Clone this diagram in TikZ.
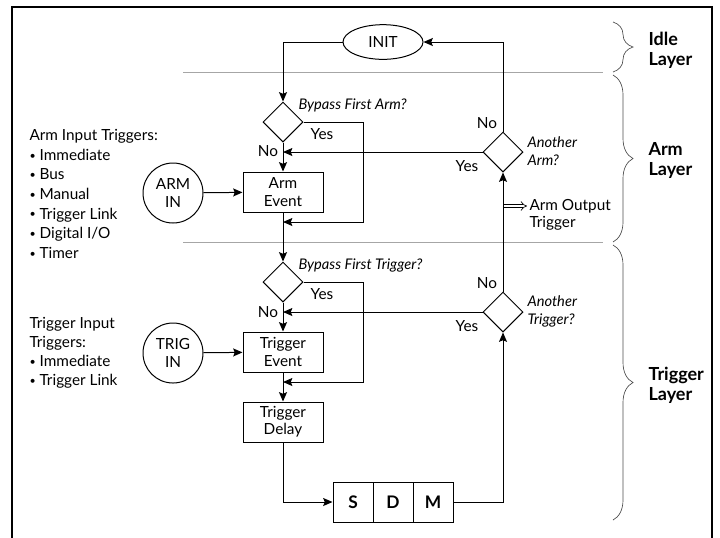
\documentclass[tikz,border=0pt]{standalone}
\usepackage{fontspec}
\setmainfont{Lato}
\usetikzlibrary{shapes.geometric,arrows.meta,decorations.pathreplacing}
\newcommand\mybul{{\fontsize{8}{8}\selectfont\raisebox{0.9pt}{\textbullet}}\ }
\begin{document}
\begin{tikzpicture}[x=0.75pt,y=-0.75pt,
  font=\fontsize{11.5}{13}\selectfont,
  line width=0.75pt,
  arr/.style={-{Stealth[length=7pt,width=6pt,inset=1.2pt]}},
  box/.style={draw,rectangle,minimum width=60pt,minimum height=30pt,inner sep=1pt,align=center},
  dec/.style={draw,diamond,minimum width=30pt,minimum height=30pt,inner sep=0pt},
  circ/.style={draw,circle,minimum size=45pt,inner sep=0pt,align=center},
  oval/.style={draw,ellipse,minimum width=60pt,minimum height=26pt,inner sep=0pt},
  cell/.style={draw,rectangle,minimum width=30pt,minimum height=30pt,inner sep=0pt,font=\fontsize{13}{14}\selectfont\bfseries},
  lbl/.style={inner sep=0pt},
  q/.style={inner sep=0pt,anchor=west,align=left,font=\fontsize{11}{13.5}\selectfont\itshape},
  note/.style={inner sep=0pt,anchor=west,align=left},
  layer/.style={anchor=west,align=left,inner sep=0pt,font=\fontsize{13.5}{15}\selectfont\bfseries},
  sepline/.style={draw=gray!70,line width=0.6pt},
  brc/.style={draw=gray!60!black,line width=0.5pt,decorate,decoration={brace,amplitude=15pt}}
]
\useasboundingbox (0,0) rectangle (720,537);
% frame
\draw[line width=1.6pt] (12,540) -- (12,7) -- (712,7) -- (712,540);
% separators
\draw[sepline] (183,72) -- (603,72);
\draw[sepline] (183,242) -- (603,242);
% braces
\draw[brc] (613,22) -- (613,72);
\draw[brc] (613,75) -- (613,242);
\draw[brc] (613,245) -- (613,520);
\node[layer] (lidle) at (648,50) {Idle\\Layer};
\node[layer] (larm) at (648,160) {Arm\\Layer};
\node[layer] (ltrig) at (648,385) {Trigger\\Layer};

% nodes
\node[oval] (init) at (383,42) {INIT};
\node[dec] (d1) at (283,122) {};
\node[box] (armev) at (283,192) {Arm\\Event};
\node[circ] (armin) at (173,193) {ARM\\IN};
\node[dec] (d2) at (283,282) {};
\node[box] (trigev) at (283,352) {Trigger\\Event};
\node[circ] (trigin) at (173,353) {TRIG\\IN};
\node[box] (trigdel) at (283,422) {Trigger\\Delay};
\node[cell] (s) at (353,502) {S};
\node[cell] (d) at (393,502) {D};
\node[cell] (m) at (433,502) {M};
\node[dec] (d3) at (503,312) {};
\node[dec] (d4) at (503,152) {};

% helper coordinates
\coordinate (b1) at (363,222);
\coordinate (j1) at (283,222);
\coordinate (j2) at (283,152);
\coordinate (b2) at (363,382);
\coordinate (j3) at (283,382);
\coordinate (j4) at (283,312);
\coordinate (ao1) at (504,206);
\coordinate (ao2) at (527,206);

% connectors
\draw[arr] (init.west) -| (d1.north);
\draw[arr] (d1.east) -| (b1) -- (j1);
\draw[arr] (d1.south) -- (armev.north);
\draw[arr] (d4.west) -- (j2);
\draw[arr] (armin) -- (armev);
\draw[arr] (armev.south) -- (d2.north);
\draw[arr] (d2.east) -| (b2) -- (j3);
\draw[arr] (d2.south) -- (trigev.north);
\draw[arr] (d3.west) -- (j4);
\draw[arr] (trigin) -- (trigev);
\draw[arr] (trigev.south) -- (trigdel.north);
\draw[arr] (trigdel.south) |- (s.west);
\draw[arr] (m.east) -| (d3.south);
\draw[arr] (d3.north) -- (d4.south);
\draw[arr] (d4.north) |- (init.east);
\draw[double,double distance=2pt,line width=0.5pt,-{Implies}] (ao1) -- (ao2);

% labels
\node[q] (q1) at (298,105) {Bypass First Arm?};
\node[lbl] (y1) at (322,134) {Yes};
\node[lbl] (n1) at (268,151) {No};
\node[q] (q2) at (298,265) {Bypass First Trigger?};
\node[lbl] (y2) at (322,294) {Yes};
\node[lbl] (n2) at (268,312) {No};
\node[q] (q4) at (527,151) {Another\\Arm?};
\node[lbl] (n4) at (487,123) {No};
\node[lbl] (y4) at (467,166) {Yes};
\node[note] (aot) at (529,215) {Arm Output\\Trigger};
\node[q] (q3) at (527,311) {Another\\Trigger?};
\node[lbl] (n3) at (487,283) {No};
\node[lbl] (y3) at (467,326) {Yes};

% left notes
\node[note,font=\fontsize{11.5}{14.7}\selectfont] (armlist) at (29,194)
  {Arm Input Triggers:\\\mybul Immediate\\\mybul Bus\\\mybul Manual\\\mybul Trigger Link\\\mybul Digital I/O\\\mybul Timer};
\node[note,font=\fontsize{11.5}{14.3}\selectfont] (triglist) at (29,353)
  {Trigger Input\\Triggers:\\\mybul Immediate\\\mybul Trigger Link};
\end{tikzpicture}
\end{document}
